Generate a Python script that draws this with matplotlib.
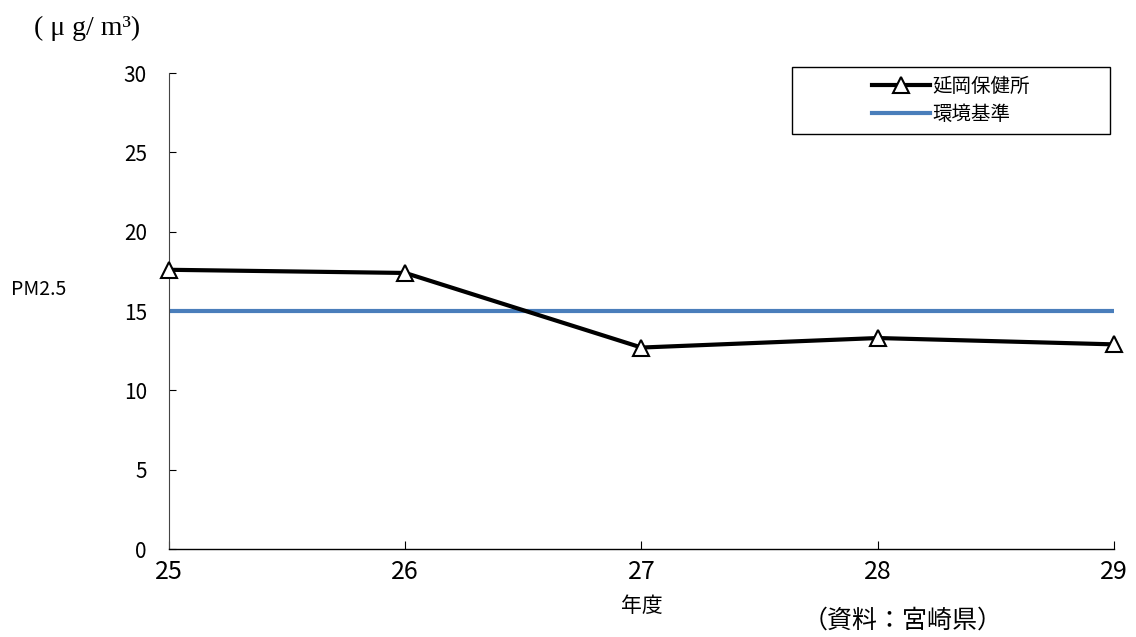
import matplotlib
matplotlib.use("Agg")
import matplotlib.pyplot as plt
from matplotlib.patches import Rectangle

plt.rcParams['font.family'] = ['Noto Sans CJK JP', 'DejaVu Sans']

years = ['25', '26', '27', '28', '29']
x_pos = [25, 26, 27, 28, 29]
nobeoka = [17.6, 17.4, 12.7, 13.3, 12.9]
standard = [15, 15, 15, 15, 15]
yticks = [0, 5, 10, 15, 20, 25, 30]

fig = plt.figure(figsize=(11.36, 6.37), dpi=100)
ax = fig.add_axes([0.1488, 0.138, 0.8318, 0.7474])

ax.plot(x_pos, nobeoka, color='black', lw=3, marker='^', markersize=11,
        markerfacecolor='white', markeredgecolor='black', markeredgewidth=1.5,
        label='延岡保健所', zorder=3, clip_on=False)
ax.plot(x_pos, standard, color='#4a7ebb', lw=3, label='環境基準', zorder=2)

ax.set_xlim(25, 29)
ax.set_ylim(0, 30)
ax.set_xticks(x_pos)
ax.set_xticklabels(years, fontsize=18)
ax.set_yticks(yticks)
ax.set_yticklabels([str(v) for v in yticks], fontsize=15)
ax.tick_params(axis='y', direction='in', length=5, pad=16, width=0.8)
ax.tick_params(axis='x', direction='in', length=6, pad=7, width=0.8)

for s in ['top', 'right']:
    ax.spines[s].set_visible(False)
ax.spines['left'].set_linestyle((0, (1, 1)))
ax.spines['left'].set_color('#444444')
ax.spines['bottom'].set_color('black')
ax.spines['bottom'].set_linewidth(1.0)

ax.set_xlabel('年度', fontsize=15, labelpad=7)

fig.text(0.03, 0.955, '( μ g/ m³)', fontsize=20, family='Liberation Serif',
         ha='left', va='center')
fig.text(0.010, 0.545, 'PM2.5', fontsize=14, ha='left', va='center')
fig.text(0.795, 0.025, '（資料：宮崎県）', fontsize=18, ha='center', va='center')

# legend frame
fig.patches.append(Rectangle((0.697, 0.790), 0.280, 0.105, transform=fig.transFigure,
                             facecolor='white', edgecolor='black', lw=1.0, zorder=5))
leg = fig.legend(loc='center', bbox_to_anchor=(0.697 + 0.14, 0.790 + 0.0525),
                 fontsize=14, frameon=False, handlelength=3.0, handletextpad=0.1,
                 borderpad=0.2, labelspacing=0.35, borderaxespad=0)
leg.set_zorder(6)

fig.savefig('out.png', dpi=100)
